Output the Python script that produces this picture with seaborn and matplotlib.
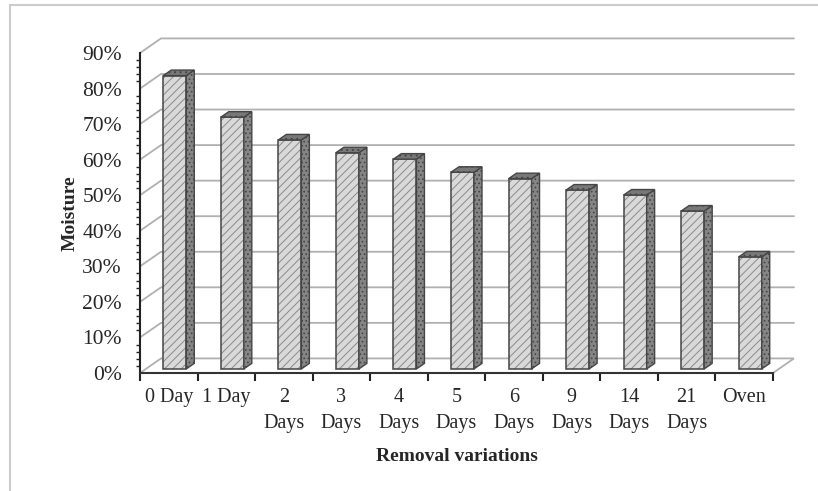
import matplotlib
matplotlib.use("Agg")
import matplotlib.pyplot as plt
import seaborn as sns
import pandas as pd
from matplotlib.patches import Polygon, Rectangle
from matplotlib.lines import Line2D
from matplotlib.ticker import MultipleLocator, FuncFormatter

# values
categories = ["0 Day", "1 Day", "2\nDays", "3\nDays", "4\nDays", "5\nDays",
              "6\nDays", "9\nDays", "14\nDays", "21\nDays", "Oven"]
moisture = [82.5, 70.8, 64.4, 60.8, 59.0, 55.3, 53.5, 50.3, 48.9, 44.4, 31.5]
y_ticks = [0, 10, 20, 30, 40, 50, 60, 70, 80, 90]

sns.set_style("white")
plt.rcParams["font.family"] = ["Liberation Serif", "DejaVu Serif"]
plt.rcParams["hatch.linewidth"] = 0.7

W, H = 818, 491
fig = plt.figure(figsize=(W / 100, H / 100), dpi=100)
ax = fig.add_axes([140 / W, (H - 373) / H, 633 / W, 320 / H])

df = pd.DataFrame({"cat": categories, "val": moisture})
sns.barplot(data=df, x="cat", y="val", ax=ax, width=0.4, color="#d9d9d9",
            edgecolor="#8a8a8a", linewidth=0, hatch="////", saturation=1,
            zorder=3)

n = len(categories)
ax.set_xlim(-0.5, n - 0.5)
ax.set_ylim(0, 90)

# pseudo-3D depth offsets (data units)
wdx, wdy = 0.365, 4.1     # back wall
fdx, fdy = 0.104, 1.15    # bar front face behind the front edge
bdx, bdy = 0.139, 1.55    # bar depth

grid_c = "#b0b0b0"
x0w, x1w = -0.5, n - 0.5
# floor
ax.add_patch(Polygon([(x0w, 0), (x1w, 0), (x1w + wdx, wdy), (x0w + wdx, wdy)],
                     closed=True, fill=False, edgecolor=grid_c, lw=1.3,
                     clip_on=False, zorder=1))
# back wall and side wall gridlines
for v in y_ticks[1:]:
    ax.add_line(Line2D([x0w, x0w + wdx, x1w + wdx], [v, v + wdy, v + wdy],
                       color=grid_c, lw=1.3, clip_on=False, zorder=1))

edge_c = "#454545"
for p in ax.patches[:]:
    if not isinstance(p, Rectangle):
        continue
    x0 = p.get_x() + fdx
    w = p.get_width()
    h = p.get_height()
    p.set_x(x0)
    p.set_y(fdy)
    x1 = x0 + w
    y0, y1 = fdy, fdy + h
    # outline of front face
    ax.add_patch(Rectangle((x0, y0), w, h, fill=False, edgecolor=edge_c,
                           lw=1.1, zorder=4, clip_on=False))
    # side face
    ax.add_patch(Polygon([(x1, y0), (x1 + bdx, y0 + bdy), (x1 + bdx, y1 + bdy), (x1, y1)],
                         closed=True, facecolor="#858585", edgecolor=edge_c,
                         hatch="....", lw=1.0, zorder=4, clip_on=False))
    # top face
    ax.add_patch(Polygon([(x0, y1), (x1, y1), (x1 + bdx, y1 + bdy), (x0 + bdx, y1 + bdy)],
                         closed=True, facecolor="#787878", edgecolor=edge_c,
                         hatch="...", lw=1.0, zorder=4, clip_on=False))

# axes styling
for s in ["top", "right"]:
    ax.spines[s].set_visible(False)
ax.spines["left"].set_color("#222222")
ax.spines["left"].set_linewidth(1.5)
ax.spines["bottom"].set_color("#333333")
ax.spines["bottom"].set_linewidth(1.5)
ax.spines["left"].set_zorder(5)
ax.spines["bottom"].set_zorder(5)

ax.set_yticks(y_ticks)
ax.yaxis.set_major_formatter(FuncFormatter(lambda v, _: f"{v:.0f}%"))
ax.yaxis.set_minor_locator(MultipleLocator(2))
ax.tick_params(axis="y", which="major", direction="out", length=4, width=1.3,
               color="#222222", labelsize=15.5, pad=9)
ax.tick_params(axis="y", which="minor", direction="out", length=3, width=1.0,
               color="#222222", left=True)

ax.set_xticks(range(n))
ax.set_xticklabels(categories, fontsize=14.5, linespacing=1.5)
ax.xaxis.set_minor_locator(MultipleLocator(1, offset=0.5))
ax.tick_params(axis="x", which="major", direction="out", length=3, width=1.5,
               color="#222222", pad=8)
ax.tick_params(axis="x", which="minor", direction="out", length=6, width=1.5,
               color="#222222", bottom=True)

ax.set_xlabel("Removal variations", fontsize=14, fontweight="bold")
ax.xaxis.set_label_coords(0.5, -0.235)
ax.set_ylabel("Moisture", fontsize=14, fontweight="bold")
ax.yaxis.set_label_coords(-0.097, 0.5)

ax.set_facecolor("none")
ax.grid(False)

# outer chart-area frame (left and top edges visible)
fig.add_artist(Line2D([10 / W, 10 / W], [0, 1 - 5 / H], color="#cccccc", lw=1.5))
fig.add_artist(Line2D([10 / W, 1], [1 - 5 / H, 1 - 5 / H], color="#cccccc", lw=1.5))

fig.savefig("out.png", dpi=100, facecolor="white")
